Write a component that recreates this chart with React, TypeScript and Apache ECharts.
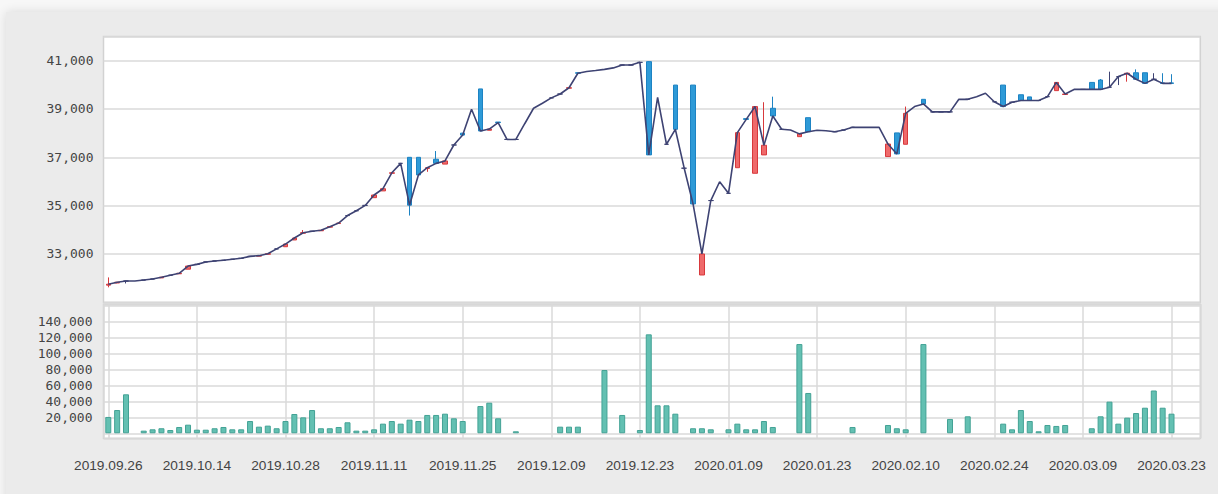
import React, { useEffect, useRef } from "react";
import * as echarts from "echarts";

// Trading days (category index = position in this list)
const dates: string[] = [
  "2019.09.26", "2019.09.27", "2019.09.30", "2019.10.01", "2019.10.02", "2019.10.04", "2019.10.07", "2019.10.08", "2019.10.10", "2019.10.11",
  "2019.10.14", "2019.10.15", "2019.10.16", "2019.10.17", "2019.10.18", "2019.10.21", "2019.10.22", "2019.10.23", "2019.10.24", "2019.10.25",
  "2019.10.28", "2019.10.29", "2019.10.30", "2019.10.31", "2019.11.01", "2019.11.04", "2019.11.05", "2019.11.06", "2019.11.07", "2019.11.08",
  "2019.11.11", "2019.11.12", "2019.11.13", "2019.11.14", "2019.11.15", "2019.11.18", "2019.11.19", "2019.11.20", "2019.11.21", "2019.11.22",
  "2019.11.25", "2019.11.26", "2019.11.27", "2019.11.28", "2019.11.29", "2019.12.02", "2019.12.03", "2019.12.04", "2019.12.05", "2019.12.06",
  "2019.12.09", "2019.12.10", "2019.12.11", "2019.12.12", "2019.12.13", "2019.12.16", "2019.12.17", "2019.12.18", "2019.12.19", "2019.12.20",
  "2019.12.23", "2019.12.24", "2019.12.26", "2019.12.27", "2019.12.30", "2020.01.02", "2020.01.03", "2020.01.06", "2020.01.07", "2020.01.08",
  "2020.01.09", "2020.01.10", "2020.01.13", "2020.01.14", "2020.01.15", "2020.01.16", "2020.01.17", "2020.01.20", "2020.01.21", "2020.01.22",
  "2020.01.23", "2020.01.28", "2020.01.29", "2020.01.30", "2020.01.31", "2020.02.03", "2020.02.04", "2020.02.05", "2020.02.06", "2020.02.07",
  "2020.02.10", "2020.02.11", "2020.02.12", "2020.02.13", "2020.02.14", "2020.02.17", "2020.02.18", "2020.02.19", "2020.02.20", "2020.02.21",
  "2020.02.24", "2020.02.25", "2020.02.26", "2020.02.27", "2020.02.28", "2020.03.02", "2020.03.03", "2020.03.04", "2020.03.05", "2020.03.06",
  "2020.03.09", "2020.03.10", "2020.03.11", "2020.03.12", "2020.03.13", "2020.03.16", "2020.03.17", "2020.03.18", "2020.03.19", "2020.03.20",
  "2020.03.23",
];

const closes: number[] = [
  31750, 31830, 31880, 31880, 31920, 31965, 32040, 32120, 32200, 32500,
  32570, 32670, 32710, 32740, 32780, 32820, 32900, 32930, 33010, 33210,
  33410, 33660, 33880, 33940, 33980, 34130, 34280, 34590, 34790, 35010,
  35440, 35700, 36360, 36750, 35020, 36270, 36570, 36750, 36850, 37510,
  37920, 38990, 38090, 38170, 38440, 37740, 37740, 38390, 39030, 39240,
  39460, 39620, 39880, 40480, 40550, 40590, 40640, 40700, 40820, 40820,
  40930, 37100, 39480, 37540, 38160, 36550, 35070, 33000, 35210, 35990,
  35510, 38020, 38570, 39100, 37500, 38710, 38160, 38130, 37970, 38060,
  38120, 38100, 38060, 38130, 38240, 38240, 38240, 38240, 37550, 37140,
  38820, 39100, 39210, 38880, 38880, 38880, 39400, 39400, 39510, 39650,
  39300, 39100, 39280, 39350, 39350, 39350, 39510, 40100, 39620, 39810,
  39810, 39810, 39810, 39900, 40340, 40480, 40230, 40060, 40230, 40060,
  40060,
];

// null = no candle drawn that day
const opens: (number | null)[] = [
  31710, 31800, 31880, null, 31920, 31965, 32010, 32120, 32180, 32370,
  32570, 32670, 32710, 32740, 32780, 32820, 32900, 32910, 32990, 33210,
  33300, 33580, 33860, 33940, 33960, 34110, 34260, 34590, 34790, 35010,
  35330, 35610, 36340, 36750, 37000, 37000, 36540, 36920, 36720, 37510,
  38000, null, 39830, 38120, 38460, 37740, 37740, null, null, null,
  39460, 39620, 39860, 40500, null, null, null, null, 40820, 40820,
  40930, 40960, null, 37540, 39990, 36550, 39990, 32130, 35210, null,
  35510, 36570, 38600, 36340, 37100, 39030, 38160, null, 37855, 38640,
  null, null, 38060, 38130, 38240, null, null, null, 37030, 38010,
  37540, null, 39400, 38880, 38880, 38880, null, 39400, null, null,
  39300, 39990, 39280, 39590, 39500, 39350, 39510, 39760, 39600, null,
  39810, 40100, 40200, 39900, 40340, 40450, 40500, 40500, 40230, 40080,
  40080,
];

// null = no wick above / below the body
const highs: (number | null)[] = [
  32030, null, 31890, null, null, null, null, null, null, null,
  null, null, null, null, null, null, null, null, null, null,
  null, null, 33990, null, null, null, null, null, null, null,
  null, null, null, null, 37000, null, null, 37260, null, null,
  null, null, null, null, null, null, null, null, null, null,
  null, null, null, null, null, null, null, null, null, null,
  null, 40980, null, null, null, null, null, null, null, null,
  null, null, null, null, 39280, 39510, null, null, null, null,
  null, null, null, null, null, null, null, null, null, null,
  39100, null, null, null, null, null, null, null, null, null,
  null, null, null, null, null, null, null, null, null, null,
  null, null, 40240, 40545, null, null, 40640, null, 40480, 40480,
  40440,
];

const lows: (number | null)[] = [
  31620, 31790, 31780, null, null, null, null, null, null, null,
  null, null, null, null, null, null, null, null, null, null,
  null, null, null, null, null, null, null, null, null, null,
  null, null, null, null, 34590, null, 36400, 36720, null, null,
  37880, null, null, null, null, null, null, null, null, null,
  null, null, null, null, null, null, null, null, null, null,
  null, null, null, null, null, null, null, null, null, null,
  null, null, null, null, null, null, null, null, null, null,
  null, null, null, null, null, null, null, null, null, null,
  null, null, null, null, null, null, null, null, null, null,
  null, null, null, null, null, null, null, null, null, null,
  null, null, null, 39880, 39990, 40130, null, null, null, null,
  null,
];

const volumes: number[] = [
  20500, 29200, 48900, 0, 3300, 5000, 6300, 4100, 7900, 10800,
  4500, 4500, 6300, 7900, 5000, 5000, 15400, 8300, 9600, 6300,
  15400, 24200, 20000, 29200, 6300, 6300, 7900, 13800, 3300, 3300,
  5000, 12100, 15400, 12100, 17100, 15400, 23000, 23000, 24600, 18800,
  15400, 0, 34200, 38400, 18800, 0, 2500, 0, 0, 0,
  0, 8300, 8300, 8300, 0, 0, 79400, 0, 23000, 0,
  4100, 124200, 35100, 35100, 24600, 0, 6300, 6300, 5000, 0,
  5000, 12100, 5000, 5000, 15400, 7900, 0, 0, 112000, 50600,
  0, 0, 0, 0, 7900, 0, 0, 0, 10400, 6300,
  5000, 0, 112000, 0, 0, 18000, 0, 21300, 0, 0,
  0, 12100, 5000, 29200, 15400, 2500, 10400, 9200, 10400, 0,
  0, 6300, 21300, 39700, 12100, 19600, 25400, 32100, 53700, 32100,
  24600,
];

const priceAxis = { min: 31000, max: 42000, step: 2000 };
const volumeAxis = { min: -6300, max: 161900, step: 20000, firstLabel: 20000, lastLabel: 140000 };
const xAxisRange = { min: -0.54, max: 123.25, step: 10 };

const DOJI = "#3d4272";
const UP = "#ef6a6b";
const UP_BORDER = "#d8393c";
const DOWN = "#2e9ad7";
const DOWN_BORDER = "#1d83c3";
const GRID_LINE = "#dadada";

const fmt = (v: number) => Math.round(v).toLocaleString("en-US");

export default function App() {
  const ref = useRef<HTMLDivElement>(null);

  useEffect(() => {
    if (!ref.current) return;
    const chart = echarts.init(ref.current, undefined, { renderer: "svg" });

    const candleData: any[] = [];
    dates.forEach((_, i) => {
      const o = opens[i];
      if (o == null) return;
      const c = closes[i];
      const h = highs[i] ?? Math.max(o, c);
      const l = lows[i] ?? Math.min(o, c);
      const item: any = { value: [i, o, c, l, h] };
      if (o === c) {
        item.itemStyle = {
          color: DOJI, color0: DOJI, borderColor: DOJI, borderColor0: DOJI, borderColorDoji: DOJI,
        };
      }
      candleData.push(item);
    });

    const lineData = closes.map((c, i) => [i, c]);
    const volData = volumes.map((v, i) => [i, v]).filter((d) => d[1] > 0);

    const labelFont = { fontFamily: "DejaVu Sans Mono", fontSize: 13, color: "#444" };

    chart.setOption({
      animation: false,
      backgroundColor: "transparent",
      grid: [
        {
          left: 103.5, top: 36.5, width: 1096.8, height: 265.8,
          show: true, backgroundColor: "#ffffff", borderColor: "#d2d2d2", borderWidth: 1.5,
          containLabel: false, outerBoundsMode: "none",
        },
        {
          left: 103.5, top: 304.3, width: 1096.8, height: 134,
          show: true, backgroundColor: "#ffffff", borderColor: "#d2d2d2", borderWidth: 1.5,
          containLabel: false, outerBoundsMode: "none",
        },
      ],
      xAxis: [
        {
          type: "value", gridIndex: 0,
          min: xAxisRange.min, max: xAxisRange.max,
          minInterval: xAxisRange.step, maxInterval: xAxisRange.step,
          axisLine: { show: false }, axisTick: { show: false },
          axisLabel: { show: false }, splitLine: { show: false },
        },
        {
          type: "value", gridIndex: 1,
          min: xAxisRange.min, max: xAxisRange.max,
          minInterval: xAxisRange.step, maxInterval: xAxisRange.step,
          axisLine: { show: false }, axisTick: { show: false },
          axisLabel: {
            show: true, margin: 20, color: "#444", fontFamily: "Liberation Sans", fontSize: 13.7,
            showMinLabel: false, showMaxLabel: false,
            formatter: (v: number) => (Number.isInteger(v) && dates[v] ? dates[v] : ""),
          },
          splitLine: { show: true, lineStyle: { color: GRID_LINE, width: 1.5 } },
        },
      ],
      yAxis: [
        {
          type: "value", gridIndex: 0,
          min: priceAxis.min, max: priceAxis.max, interval: priceAxis.step,
          axisLine: { show: false }, axisTick: { show: false },
          axisLabel: {
            ...labelFont, margin: 10,
            showMinLabel: false, showMaxLabel: false,
            formatter: (v: number) => (v > priceAxis.min && v < priceAxis.max ? fmt(v) : ""),
          },
          splitLine: { show: true, lineStyle: { color: GRID_LINE, width: 1.5 } },
        },
        {
          type: "value", gridIndex: 1,
          min: volumeAxis.min, max: volumeAxis.max,
          minInterval: volumeAxis.step, maxInterval: volumeAxis.step,
          axisLine: { show: false }, axisTick: { show: false },
          axisLabel: {
            ...labelFont, margin: 11,
            showMinLabel: false, showMaxLabel: false,
            formatter: (v: number) =>
              v >= volumeAxis.firstLabel && v <= volumeAxis.lastLabel ? fmt(v) : "",
          },
          splitLine: { show: true, lineStyle: { color: GRID_LINE, width: 1.5 } },
        },
      ],
      series: [
        {
          type: "candlestick",
          xAxisIndex: 0, yAxisIndex: 0,
          data: candleData,
          encode: { x: 0, y: [1, 2, 3, 4] },
          barWidth: 5,
          z: 2,
          itemStyle: {
            color: UP, color0: DOWN,
            borderColor: UP_BORDER, borderColor0: DOWN_BORDER, borderColorDoji: DOJI,
            borderWidth: 1,
          },
        },
        {
          type: "line",
          xAxisIndex: 0, yAxisIndex: 0,
          data: lineData,
          symbol: "none",
          z: 3,
          lineStyle: { color: "#3e4373", width: 1.6 },
        },
        {
          type: "bar",
          xAxisIndex: 1, yAxisIndex: 1,
          data: volData,
          barWidth: 6,
          itemStyle: { color: "#63c0b2", borderColor: "#43a295", borderWidth: 1 },
        },
      ],
    });

    return () => chart.dispose();
  }, []);

  return (
    <div style={{ position: "fixed", left: 0, top: 0, width: 1218, height: 494, background: "#f7f7f7", overflow: "hidden" }}>
      <div
        style={{
          position: "absolute", left: 6, top: 12, width: 1240, height: 520,
          background: "#ebebeb", boxShadow: "0 0 10px rgba(0,0,0,0.12)",
        }}
      />
      <div ref={ref} style={{ position: "absolute", left: 0, top: 0, width: 1218, height: 494 }} />
    </div>
  );
}
